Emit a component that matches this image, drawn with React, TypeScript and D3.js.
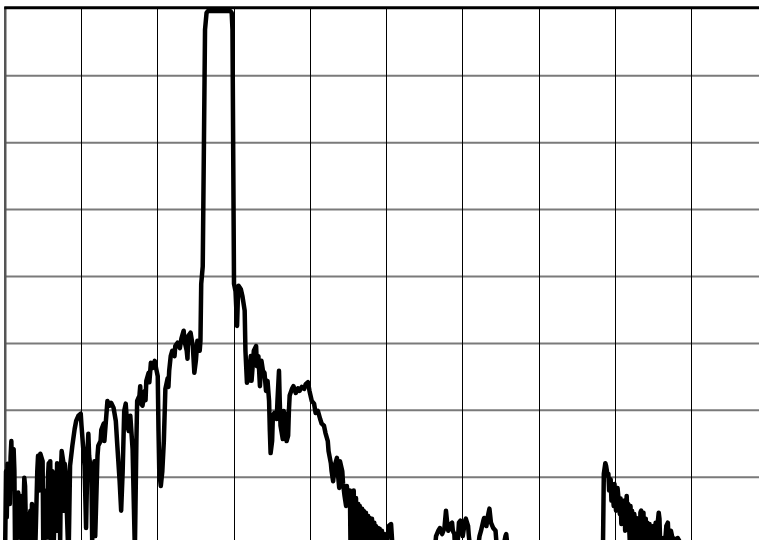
import { useEffect, useRef } from "react";
import * as d3 from "d3";

// spectrum trace as [bin, level dBm]; 1001 bins over 10 divisions
const noiseLeft: [number, number][] = [
  [0, -79.5], [1, -69.1], [2, -76.0], [3, -68.0], [4, -70.3], [5, -68.3], [6, -74.0], [7, -67.0],
  [8, -64.6], [9, -70.0], [10, -66.0], [11, -65.8], [12, -69.1], [13, -82.5], [16, -76.5], [17, -72.3],
  [18, -79.0], [19, -73.0], [20, -72.8], [21, -74.3], [22, -82.5], [25, -70.1], [26, -71.3], [28, -82.5],
  [32, -75.8], [33, -75.0], [34, -80.0], [35, -74.0], [36, -76.0], [37, -80.0], [38, -74.3], [39, -82.5],
  [42, -69.1], [43, -66.8], [44, -72.0], [45, -67.0], [46, -66.5], [49, -67.6], [50, -82.5], [54, -72.0],
  [55, -79.0], [56, -70.0], [57, -67.9], [58, -75.0], [59, -67.6], [60, -80.0], [61, -70.0], [62, -69.1],
  [63, -82.5], [66, -69.8], [67, -78.0], [68, -67.9], [69, -73.0], [71, -68.3], [72, -80.0], [73, -69.0],
  [74, -66.1], [76, -67.6], [77, -75.0], [78, -68.0], [79, -69.1], [83, -82.5], [85, -68.3], [88, -65.3],
  [91, -62.8], [93, -61.6], [96, -60.8], [99, -60.5], [100, -62.3], [102, -65.3], [104, -68.3], [106, -77.6],
  [108, -65.8], [109, -63.5], [110, -66.8], [113, -69.8], [114, -79.5], [116, -69.1], [117, -67.6],
  [118, -78.8], [121, -66.8], [122, -65.3], [125, -64.6],
];

const rise: [number, number][] = [
  [126, -62.9], [129, -62.0], [130, -64.6], [133, -60.1], [134, -58.6], [137, -59.3], [139, -58.9],
  [142, -59.6], [145, -61.6], [147, -65.3], [150, -70.6], [152, -75.0], [154, -69.1], [156, -60.1],
  [158, -59.0], [160, -62.3], [162, -63.1], [164, -60.8], [167, -65.8], [170, -81.0], [172, -64.6],
  [173, -58.6], [176, -57.8], [177, -56.4], [178, -59.0], [180, -59.3], [183, -57.1], [184, -58.5],
  [185, -55.6], [188, -54.4], [189, -55.8], [191, -52.9], [193, -53.7], [196, -52.6], [198, -53.8],
  [200, -54.9], [201, -63.1], [202, -69.1], [204, -71.3], [206, -69.1], [208, -64.6], [210, -56.8],
  [213, -55.2], [214, -56.5], [215, -54.1], [217, -51.9], [219, -51.1], [222, -51.9], [223, -50.4],
  [226, -49.9], [229, -50.7], [231, -49.3], [234, -48.1], [235, -49.6], [238, -51.1], [239, -52.3],
  [240, -48.9], [243, -48.4], [246, -50.4], [248, -54.4], [250, -52.6], [252, -49.6], [255, -51.1],
  [256, -49.6],
];

const carrier: [number, number][] = [
  [257, -41.1], [259, -38.5], [262, -3.1], [264, -0.6], [266, -0.3], [295, -0.3], [297, -0.6],
  [298, -3.1], [300, -41.1],
];

const shoulderRight: [number, number][] = [
  [302, -42.2], [304, -47.4], [305, -43.6], [306, -41.4], [309, -41.9], [311, -42.9], [314, -45.1],
  [315, -51.1], [317, -55.9], [318, -53.4], [319, -55.6], [322, -51.9], [323, -55.6], [326, -51.1],
  [329, -50.4], [330, -53.4], [332, -51.9], [334, -56.4], [336, -52.6], [338, -54.1], [340, -54.4],
  [342, -57.1], [344, -55.6], [346, -58.6], [347, -63.1], [348, -66.4], [350, -64.6], [351, -60.8],
  [353, -60.4], [356, -61.3], [357, -58.6], [359, -54.1], [360, -58.6], [361, -62.3], [364, -64.3],
  [365, -60.1], [368, -60.8], [369, -64.6], [371, -63.8], [372, -60.1], [373, -57.8], [376, -56.8],
  [378, -56.4], [381, -57.4], [384, -56.7], [386, -57.1], [389, -56.5], [392, -56.8], [394, -56.1],
  [397, -55.8], [399, -57.1], [402, -58.6], [405, -59.0], [407, -60.4], [410, -60.1], [413, -61.3],
  [415, -62.0], [418, -62.3], [420, -63.4], [423, -64.6], [424, -66.1], [427, -67.9], [428, -69.1],
  [430, -70.6], [432, -68.3], [435, -67.1], [436, -69.1], [438, -71.6], [439, -67.6], [442, -69.1],
  [443, -70.9], [445, -72.8], [447, -74.3], [448, -71.3], [449, -72.8], [451, -72.0],
];

const denseFall: [number, number][] = [
  [452, -72.0], [453, -82.5], [455, -72.3], [456, -82.5], [457, -72.0], [459, -82.5], [460, -73.1],
  [461, -82.5], [463, -74.0], [464, -82.5], [465, -74.3], [466, -82.5], [468, -74.7], [469, -82.5],
  [470, -75.0], [472, -82.5], [473, -75.3], [474, -82.5], [476, -75.8], [477, -82.5], [478, -76.1],
  [480, -82.5], [481, -76.2], [482, -82.5], [484, -76.8], [485, -82.5], [486, -77.3], [487, -82.5],
  [489, -77.6], [490, -82.5], [491, -77.7], [493, -82.5], [494, -78.0], [495, -82.5], [497, -78.5],
  [498, -82.5], [503, -77.3], [506, -77.0], [509, -82.5], [519, -83.3], [545, -84.0], [562, -82.5],
];

const spurs: [number, number][] = [
  [565, -78.8], [568, -78.0], [570, -77.6], [573, -78.5], [576, -77.6], [578, -75.0], [580, -77.3],
  [581, -78.0], [583, -77.1], [586, -76.8], [587, -78.0], [589, -78.5], [590, -81.0], [593, -80.3],
  [595, -76.8], [597, -76.5], [599, -78.0], [600, -78.8], [603, -76.5], [604, -76.2], [607, -77.3],
  [608, -78.8], [611, -81.8], [618, -82.5], [622, -78.8], [624, -78.0], [627, -76.5], [628, -76.1],
  [631, -77.3], [633, -75.8], [635, -74.7], [637, -76.8], [640, -77.6], [643, -78.0], [645, -81.0],
  [650, -82.5], [656, -78.8], [657, -78.5], [660, -81.8], [677, -83.3], [729, -84.0], [782, -83.3],
];

const spurCluster: [number, number][] = [
  [784, -79.5], [785, -69.5], [787, -67.9], [788, -68.3], [790, -69.8], [791, -69.5], [792, -72.0],
  [794, -70.3], [795, -73.5], [796, -71.6], [798, -74.3], [799, -71.0], [800, -72.8], [801, -75.0],
  [803, -71.6], [804, -72.8], [806, -75.5], [807, -73.2], [808, -77.0], [809, -74.3], [811, -76.5],
  [812, -73.5], [813, -78.0], [815, -72.8], [816, -76.1], [817, -74.0], [819, -79.5], [820, -74.3],
  [821, -77.3], [822, -75.0], [824, -82.5], [825, -75.5], [826, -78.5], [828, -76.1], [829, -79.2],
  [830, -76.5], [832, -82.5], [833, -75.3], [834, -75.0], [836, -78.0], [837, -75.3], [838, -80.3],
  [840, -76.2], [841, -79.5], [842, -76.8], [844, -82.5], [845, -77.0], [846, -79.2], [848, -77.6],
  [849, -80.3], [850, -77.3], [851, -82.5], [853, -76.8], [854, -79.5], [855, -77.6], [857, -75.3],
  [858, -76.2], [859, -80.3], [861, -79.2], [862, -82.5], [863, -79.1], [865, -80.3], [866, -78.8],
  [867, -77.3], [869, -76.8], [870, -79.5], [871, -82.5], [873, -78.0], [875, -79.1], [876, -80.3],
  [878, -79.2], [880, -82.5], [882, -79.1], [884, -79.5], [886, -82.5], [890, -83.3], [913, -84.0],
  [953, -83.3], [1000, -84.0],
];

const xDivs = d3.range(0, 1001, 100); // bin of each vertical graticule line
const yDivs = d3.range(-80, 1, 10); // 10 dB / div, ref 0 dBm

const DrawChart = (element: any) => {
  const width = 759;
  const height = 540;

  d3.select(element).select("svg").remove();

  const svg = d3
    .select(element)
    .append("svg")
    .attr("width", width)
    .attr("height", height)
    .style("display", "block")
    .style("background", "#fff");

  const x = d3.scaleLinear().domain([0, 1000]).range([5.25, 767.75]);
  const y = d3.scaleLinear().domain([0, -80]).range([8.9, 544.1]);

  // graticule
  svg
    .append("g")
    .selectAll("line")
    .data(yDivs.filter((d) => d < 0))
    .enter()
    .append("line")
    .attr("x1", x(0))
    .attr("x2", x(1000))
    .attr("y1", (d) => y(d))
    .attr("y2", (d) => y(d))
    .attr("stroke", "#7a7a7a")
    .attr("stroke-width", 2);

  svg
    .append("g")
    .selectAll("line")
    .data(xDivs.filter((d) => d > 0))
    .enter()
    .append("line")
    .attr("x1", (d) => x(d))
    .attr("x2", (d) => x(d))
    .attr("y1", y(0))
    .attr("y2", y(-80))
    .attr("stroke", "#000")
    .attr("stroke-width", 1)
    .attr("shape-rendering", "crispEdges");

  // frame: left edge and reference line
  svg
    .append("line")
    .attr("x1", x(0))
    .attr("x2", x(0))
    .attr("y1", 7)
    .attr("y2", y(-80))
    .attr("stroke", "#555")
    .attr("stroke-width", 2.5);

  const trace = [
    ...noiseLeft,
    ...rise,
    ...carrier,
    ...shoulderRight,
    ...denseFall,
    ...spurs,
    ...spurCluster,
  ];

  const line = d3
    .line<[number, number]>()
    .x((d) => x(d[0]))
    .y((d) => y(d[1]));

  svg
    .append("path")
    .datum(trace)
    .attr("d", line)
    .attr("fill", "none")
    .attr("stroke", "#000")
    .attr("stroke-width", 4.5)
    .attr("stroke-linejoin", "round");

  svg
    .append("line")
    .attr("x1", x(0) - 1)
    .attr("x2", width)
    .attr("y1", 7.8)
    .attr("y2", 7.8)
    .attr("stroke", "#000")
    .attr("stroke-width", 3);
};

export default function App() {
  const ref = useRef<HTMLDivElement>(null);

  useEffect(() => {
    document.body.style.margin = "0";
    DrawChart(ref.current);
  }, []);

  return <div ref={ref} />;
}
